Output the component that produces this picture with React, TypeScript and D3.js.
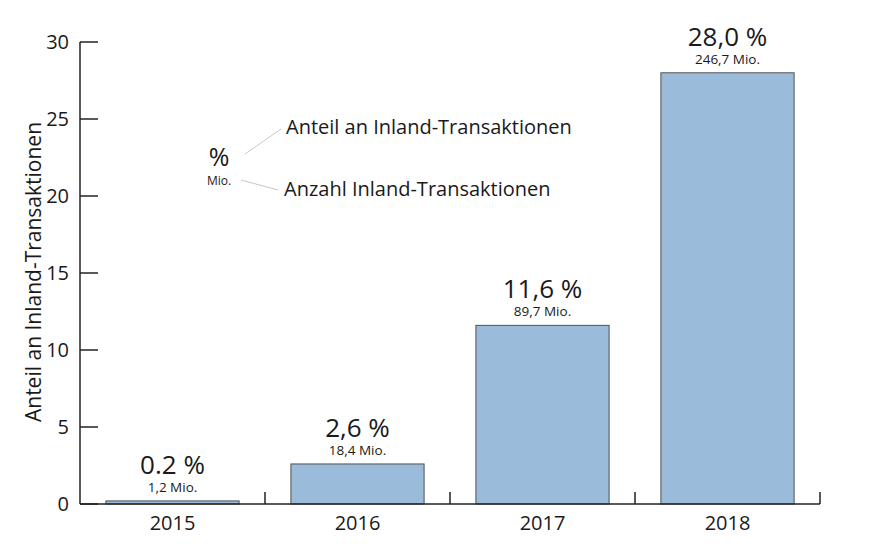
import React from "react";
import * as d3 from "d3";

const years = ["2015", "2016", "2017", "2018"];
const shares = [0.2, 2.6, 11.6, 28.0];
const shareLabels = ["0.2 %", "2,6 %", "11,6 %", "28,0 %"];
const countLabels = ["1,2 Mio.", "18,4 Mio.", "89,7 Mio.", "246,7 Mio."];
const yTicks = [0, 5, 10, 15, 20, 25, 30];

export default function App() {
  const W = 873, H = 544;
  const left = 80, right = 820, top = 42, bottom = 504;
  const x = d3.scaleBand<string>().domain(years).range([left, right]).paddingInner(0.28).paddingOuter(0.14);
  const band = (right - left) / years.length;
  const y = d3.scaleLinear().domain([0, 30]).range([bottom, top]);
  const font = "'Open Sans', 'Noto Sans', sans-serif";
  const txt = "#1a1a1a";
  return (
    <svg width={W} height={H} style={{ position: "absolute", left: 0, top: 0, background: "#fff" }} fontFamily={font}>
      {years.map((yr, i) => {
        const bx = x(yr)!;
        const bw = x.bandwidth();
        const ty = y(shares[i]);
        const cx = bx + bw / 2;
        return (
          <g key={yr}>
            <rect x={bx} y={ty} width={bw} height={bottom - ty} fill="#9bbbdb" stroke="#505050" strokeWidth={1} />
            <text x={cx} y={ty - 27} textAnchor="middle" fontSize={26} fill={txt}>{shareLabels[i]}</text>
            <text x={cx} y={ty - 9} textAnchor="middle" fontSize={13.5} fill={txt}>{countLabels[i]}</text>
            <text x={left + band * (i + 0.5)} y={530} textAnchor="middle" fontSize={20} fill={txt}>{yr}</text>
          </g>
        );
      })}
      {/* axes */}
      <line x1={left} y1={top} x2={left} y2={bottom} stroke="#222" strokeWidth={1.5} />
      <line x1={left} y1={bottom} x2={right} y2={bottom} stroke="#222" strokeWidth={1.5} />
      {yTicks.map((t) => (
        <g key={t}>
          <line x1={left} x2={left + 18} y1={y(t)} y2={y(t)} stroke="#222" strokeWidth={1.5} />
          <text x={69} y={y(t) + 7} textAnchor="end" fontSize={20} fill={txt}>{t}</text>
        </g>
      ))}
      {years.map((yr, i) => {
        const tx = left + band * (i + 1);
        return <line key={"t" + yr} x1={tx} x2={tx} y1={bottom} y2={bottom - 12} stroke="#222" strokeWidth={1.5} />;
      })}
      <text transform="translate(41,272) rotate(-90)" textAnchor="middle" fontSize={21} fill={txt}>Anteil an Inland-Transaktionen</text>
      {/* legend */}
      <text x={219} y={166} textAnchor="middle" fontSize={25} fill={txt}>%</text>
      <text x={219} y={185} textAnchor="middle" fontSize={12} fill={txt}>Mio.</text>
      <line x1={245} y1={154} x2={281} y2={129} stroke="#c8c8c8" strokeWidth={1} />
      <line x1={241} y1={180} x2={278} y2={190} stroke="#c8c8c8" strokeWidth={1} />
      <text x={286} y={134} fontSize={20} fill={txt}>Anteil an Inland-Transaktionen</text>
      <text x={284} y={196} fontSize={20} fill={txt}>Anzahl Inland-Transaktionen</text>
    </svg>
  );
}
